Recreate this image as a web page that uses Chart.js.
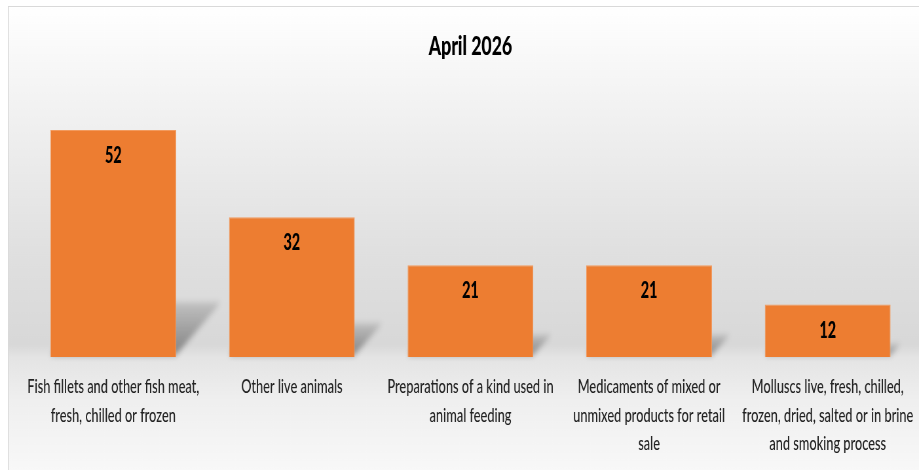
<!DOCTYPE html>
<html>
<head>
<meta charset="utf-8">
<script src="https://cdn.jsdelivr.net/npm/chart.js@4.4.1/dist/chart.umd.min.js"></script>
<style>
  html, body { margin: 0; padding: 0; background: #fff; overflow: hidden; }
  #wrap { position: absolute; left: 0; top: 0; width: 1403px; height: 470px; transform: scaleX(0.655); transform-origin: 0 0; }
</style>
</head>
<body>
<div id="wrap"><canvas id="grafico"></canvas></div>
<script>
// datos del gráfico
var titulo = 'April 2026';
var categorias = [
    ['Fish fillets and other fish meat,', 'fresh, chilled or frozen'],
    ['Other live animals'],
    ['Preparations of a kind used in', 'animal feeding'],
    ['Medicaments of mixed or', 'unmixed products for retail', 'sale'],
    ['Molluscs live, fresh, chilled,', 'frozen, dried, salted or in brine', 'and smoking process']
];
var valores = [52, 32, 21, 21, 12];
var ejeMax = 60;

var SX = 0.655; // compresión horizontal del texto (como el original)

// fondo con degradado y marco
var fondo = {
    id: 'fondo',
    beforeDraw: function(chart) {
        var ctx = chart.ctx;
        var w = chart.width, h = chart.height;
        var x0 = 8 / SX;
        ctx.save();
        ctx.fillStyle = '#ffffff';
        ctx.fillRect(0, 0, w, h);
        var g = ctx.createLinearGradient(0, 6, 0, h);
        g.addColorStop(0, '#ffffff');
        g.addColorStop(0.2, '#f3f3f3');
        g.addColorStop(0.53, '#e0e0e0');
        g.addColorStop(0.73, '#d8d8d8');
        g.addColorStop(0.757, '#e4e4e4');
        g.addColorStop(0.85, '#efefef');
        g.addColorStop(1, '#f8f8f8');
        ctx.fillStyle = g;
        ctx.fillRect(x0, 6, w - x0, h - 6);
        ctx.fillStyle = '#d9d9d9';
        ctx.fillRect(x0, 6, w - x0, 1);
        ctx.fillRect(x0, 6, 1 / SX, h - 6);
        ctx.restore();
    }
};

// sombra en perspectiva detrás de cada barra
var sombra = {
    id: 'sombra',
    beforeDatasetsDraw: function(chart) {
        var ctx = chart.ctx;
        chart.getDatasetMeta(0).data.forEach(function(bar) {
            var p = bar.getProps(['x', 'y', 'base', 'width'], true);
            var alto = p.base - p.y;
            var sh = alto * 0.24;
            var dx = sh * 0.82 / SX;
            var izq = p.x - p.width / 2, der = p.x + p.width / 2;
            ctx.save();
            ctx.filter = 'blur(3px)';
            var g = ctx.createLinearGradient(0, p.base, 0, p.base - sh);
            g.addColorStop(0, 'rgba(0,0,0,0.40)');
            g.addColorStop(1, 'rgba(0,0,0,0.12)');
            ctx.fillStyle = g;
            ctx.beginPath();
            ctx.moveTo(izq, p.base - 2);
            ctx.lineTo(der, p.base - 2);
            ctx.lineTo(der + dx, p.base - sh);
            ctx.lineTo(izq + dx, p.base - sh);
            ctx.closePath();
            ctx.fill();
            ctx.restore();
        });
    }
};

// etiquetas de valor dentro de la barra
var etiquetas = {
    id: 'etiquetas',
    afterDatasetsDraw: function(chart) {
        var ctx = chart.ctx;
        var ds = chart.data.datasets[0];
        ctx.save();
        ctx.font = '900 22px Lato';
        ctx.fillStyle = '#000000';
        ctx.textAlign = 'center';
        ctx.textBaseline = 'middle';
        chart.getDatasetMeta(0).data.forEach(function(bar, i) {
            ctx.fillText(String(ds.data[i]), bar.x, bar.y + 26);
        });
        ctx.restore();
    }
};

var ctx = document.getElementById('grafico').getContext('2d');
var myChart = new Chart(ctx, {
    type: 'bar',
    data: {
        labels: categorias,
        datasets: [{
            label: titulo,
            data: valores,
            backgroundColor: '#ED7D31',
            borderColor: '#F29A5E',
            borderWidth: 1,
            categoryPercentage: 0.8,
            barPercentage: 0.88
        }]
    },
    options: {
        responsive: true,
        maintainAspectRatio: false,
        animation: false,
        devicePixelRatio: 1,
        layout: { padding: { left: 36.6, right: 3, top: 0, bottom: 0 } },
        scales: {
            x: {
                grid: { display: false, drawTicks: false },
                border: { display: false },
                ticks: {
                    color: '#222222',
                    font: { family: 'Lato', size: 19.5, weight: '500', lineHeight: 1.46 },
                    padding: 15.75,
                    maxRotation: 0,
                    autoSkip: false
                },
                afterFit: function(scale) {
                    scale.height = 113;
                    scale.paddingLeft = 0;
                    scale.paddingRight = 0;
                }
            },
            y: {
                display: false,
                min: 0,
                max: ejeMax
            }
        },
        plugins: {
            legend: { display: false },
            tooltip: { enabled: false },
            title: {
                display: true,
                text: titulo,
                color: '#000000',
                font: { family: 'Lato', size: 27, weight: '900', lineHeight: 1.2 },
                padding: { top: 30, bottom: 32.6 }
            }
        }
    },
    plugins: [fondo, sombra, etiquetas]
});
</script>
</body>
</html>
